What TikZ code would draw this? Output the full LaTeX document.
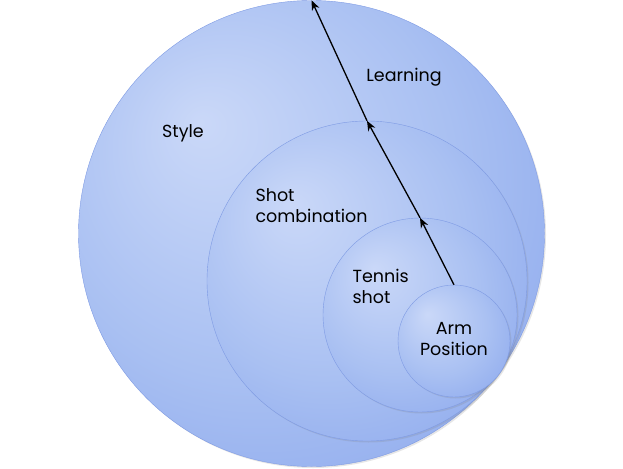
\documentclass[tikz,border=0pt]{standalone}
\usepackage{fontspec}
\setmainfont{Poppins}
\usetikzlibrary{arrows.meta,shadows}
\definecolor{cin}{HTML}{CAD8F8}
\definecolor{cmid}{HTML}{A9C0F2}
\definecolor{cout}{HTML}{86A3EC}
\definecolor{cedge}{HTML}{7F9BE4}
\pgfdeclareradialshading{ball}{\pgfpoint{-12bp}{12bp}}{color(0bp)=(cin); color(22bp)=(cmid); color(42bp)=(cout); color(50bp)=(cout)}
\begin{document}
\begin{tikzpicture}[x=1pt,y=-1pt,
  ring/.style={circle,inner sep=0pt,shading=ball,draw=cedge,line width=0.4pt,
    drop shadow={opacity=0.2,shadow xshift=1.5pt,shadow yshift=-1.5pt}},
  lbl/.style={font=\fontsize{17.5}{21}\selectfont,align=left,text=black},
  arr/.style={-{Stealth[length=10pt,width=8pt]},line width=1.3pt}]
\useasboundingbox (0,0) rectangle (623,468);
\node[ring,minimum size=466pt] (c1) at (311.5,233.5) {};
\node[ring,minimum size=320pt] (c2) at (367,281) {};
\node[ring,minimum size=194pt] (c3) at (420,315) {};
\node[ring,minimum size=112pt] (c4) at (454,341) {};
\node[lbl] (l1) at (404,77) {Learning};
\node[lbl] (l2) at (183,133) {Style};
\node[lbl,anchor=west] (l3) at (252,206) {Shot\\combination};
\node[lbl,anchor=west] (l4) at (349,286) {Tennis\\shot};
\node[lbl,align=center] (l5) at (454,339) {Arm\\Position};
\draw[arr] (c4.north) -- (c3.north);
\draw[arr] (c3.north) -- (c2.north);
\draw[arr] (c2.north) -- (c1.north);
\end{tikzpicture}
\end{document}
